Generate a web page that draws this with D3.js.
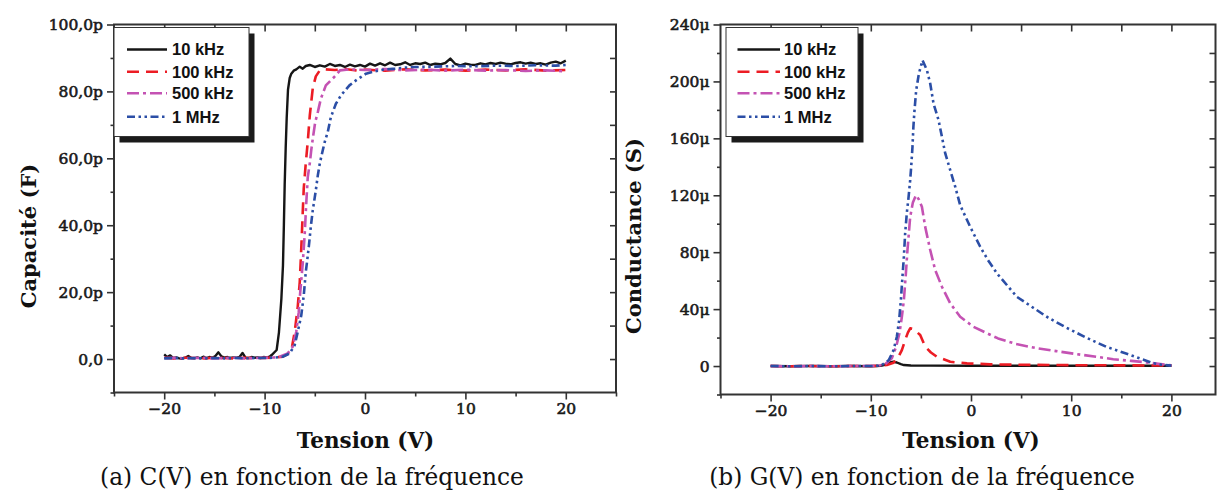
<!DOCTYPE html>
<html><head><meta charset="utf-8">
<script src="https://cdn.jsdelivr.net/npm/d3@7"></script>
<style>body{margin:0;background:#fff}svg{display:block}</style>
</head><body><svg id="c" width="1217" height="492"></svg>
<script>
// ---------- data ----------
const seriesNames = ["10 kHz", "100 kHz", "500 kHz", "1 MHz"];
const xTicks = [-20, -10, 0, 10, 20];
const xMinorTicks = [-25, -15, -5, 5, 15, 25];
const cTicks = [0, 20, 40, 60, 80, 100];
const cMinorTicks = [-10, 10, 30, 50, 70, 90];
const gTicks = [0, 40, 80, 120, 160, 200, 240];
const gMinorTicks = [-20, 20, 60, 100, 140, 180, 220];

// C(V) in pF, [tension V, capacité pF]
const c10k = [[-20,1.4],[-19.7,0.6],[-19.4,1.1],[-19.1,0.3],[-18.8,0.5],[-18.5,0.2],[-18.2,0.1],[-17.9,0.4],[-17.6,0.9],[-17.3,0.3],[-17.0,0.2],[-16.7,0.5],[-16.4,0.2],[-16.1,0.7],[-15.8,0.3],[-15.5,0.6],[-15.2,0.4],[-14.9,0.9],[-14.6,2.0],[-14.3,0.8],[-14.0,0.4],[-13.7,0.6],[-13.4,0.3],[-13.1,0.5],[-12.8,0.4],[-12.5,0.6],[-12.2,1.8],[-11.9,0.4],[-11.6,0.3],[-11.3,0.6],[-11.0,0.4],[-10.7,0.5],[-10.4,0.3],[-10.1,0.6],[-9.8,0.5],[-9.5,0.7],[-9.3,1.2],[-8.8,2.7],[-8.57,8],[-8.33,18],[-8.17,28],[-8.08,40],[-8.0,52],[-7.9,63],[-7.8,72],[-7.67,80.5],[-7.5,84],[-7.34,85.3],[-7.1,86.2],[-6.84,86.6],[-6.5,87.4],[-6.2,86.8],[-5.9,87.6],[-5.5,87.9],[-5,87.3],[-4.5,87.8],[-4,87.4],[-3.5,88.2],[-3,87.6],[-2.5,87.9],[-2,87.3],[-1.5,88.0],[-1,87.5],[-0.5,87.9],[0,87.4],[0.5,88.3],[1,87.7],[1.5,88.4],[2,87.8],[2.5,88.6],[3,87.9],[3.5,88.1],[4,88.7],[4.5,87.9],[5,88.4],[5.5,88.2],[6,88.6],[6.5,87.9],[7,88.3],[7.5,88.1],[8,88.5],[8.5,89.8],[9,88.2],[9.5,87.8],[10,88.3],[10.5,88.0],[11,87.9],[11.5,88.4],[12,88.1],[12.5,88.5],[13,88.2],[13.5,88.6],[14,88.3],[14.5,88.1],[15,88.5],[15.5,88.7],[16,88.3],[16.5,88.6],[17,88.2],[17.5,88.4],[18,88.0],[18.5,88.6],[19,88.9],[19.5,88.4],[20,89.2]];
const c100k = [[-20,0.4],[-19,0.2],[-18,0.4],[-17,0.3],[-16,0.2],[-15,0.4],[-14,0.3],[-13,0.2],[-12,0.4],[-11,0.3],[-10,0.3],[-9,0.5],[-8.2,0.7],[-7.7,1.5],[-7.3,3.2],[-7.0,8.1],[-6.7,15.6],[-6.5,23],[-6.4,29.5],[-6.3,36.5],[-6.2,44],[-6.1,51],[-5.9,58.5],[-5.7,65],[-5.5,72.8],[-5.2,81],[-4.9,84.5],[-4.5,86.3],[-4,86.6],[-3,86.4],[-2,86.7],[-1,86.3],[0,86.5],[2,86.2],[4,86.6],[6,86.3],[8,86.5],[10,86.2],[12,86.5],[14,86.3],[16,86.6],[18,86.2],[20,86.4]];
const c500k = [[-20,0.3],[-19,0.4],[-18,0.2],[-17,0.3],[-16,0.4],[-15,0.2],[-14,0.3],[-13,0.4],[-12,0.2],[-11,0.3],[-10,0.4],[-9,0.5],[-8.5,0.7],[-7.7,1.7],[-7.2,3.7],[-6.85,8.1],[-6.6,14],[-6.45,20],[-6.2,28.6],[-6.0,37.6],[-5.85,46.6],[-5.7,54.4],[-5.5,58.5],[-5.35,62.5],[-5.2,65.9],[-4.96,70.8],[-4.7,73.8],[-4.4,77.8],[-3.9,81.8],[-2.9,84.8],[-2.5,86.3],[-1.5,86.6],[0,86.4],[2,86.7],[4,86.3],[6,86.5],[8,86.2],[10,86.5],[12,86.2],[14,86.4],[16,86.1],[18,86.3],[20,86.0]];
const c1M = [[-20,0.2],[-19,0.3],[-18,0.2],[-17,0.3],[-16,0.2],[-15,0.3],[-14,0.2],[-13,0.3],[-12,0.2],[-11,0.3],[-10,0.3],[-9,0.4],[-8.2,0.7],[-7.5,1.7],[-7.0,4.2],[-6.7,8.1],[-6.35,13],[-6.1,19],[-5.9,26],[-5.75,29.6],[-5.6,33.5],[-5.4,39.5],[-5.2,44.5],[-4.9,50.4],[-4.7,54.9],[-4.5,58.5],[-4.2,62.5],[-4.0,65],[-3.7,68],[-3.4,72.3],[-2.9,76.3],[-2.4,78.8],[-1.55,81.8],[-0.9,83.3],[0.1,85.3],[1,86.0],[2,86.6],[3,86.8],[4,87.1],[5,87.3],[7,87.4],[9,87.6],[11,87.5],[13,87.7],[15,87.6],[17,87.8],[19,87.7],[20,87.9]];

// G(V) in µS, [tension V, conductance µS]
const g10k = [[-20,0],[-18,-0.2],[-16,0.1],[-14,-0.2],[-12,0],[-10,-0.1],[-9,0.2],[-8.7,0.7],[-8.3,1.8],[-8.0,2.7],[-7.73,3.0],[-7.4,2.5],[-7.0,1.3],[-6.7,0.7],[-6,0.4],[-4,0.3],[0,0.2],[5,0.2],[10,0.2],[15,0.2],[20,0.2]];
const g100k = [[-20,0],[-18,-0.2],[-16,0],[-14,-0.2],[-12,0],[-10,0],[-9,0.2],[-8.4,0.7],[-7.73,2.3],[-7.24,6.5],[-6.9,11.2],[-6.57,18.3],[-6.3,23.5],[-6.07,26.5],[-5.8,26],[-5.5,24.5],[-5.07,21.8],[-4.57,13.6],[-4,9.5],[-3.4,6.5],[-2.07,3],[-0.4,1.9],[1.9,1.2],[5,0.9],[10,0.6],[15,0.5],[20,0.3]];
const g500k = [[-20,0],[-18,-0.2],[-16,0],[-14,-0.2],[-12,0],[-10,0],[-9,0.5],[-8.56,1.4],[-7.9,5.4],[-7.47,13.6],[-7.14,23],[-6.9,34.6],[-6.7,46.3],[-6.5,65],[-6.34,81.5],[-6.07,104.8],[-5.8,115],[-5.5,120],[-5.2,117],[-4.9,111.9],[-4.57,97.8],[-4.07,81.5],[-3.57,67.4],[-2.9,55.7],[-2.07,44],[-1.08,34.6],[0.25,27.6],[1.6,23],[2.7,19.4],[4.5,15.5],[6.5,12.6],[8.5,10.5],[10.4,8.5],[12.5,6.5],[14.2,4.8],[16,3.6],[17.5,2.6],[18.9,1.4],[20,0.5]];
const g1M = [[-20,0],[-18,-0.2],[-16,0],[-14,-0.2],[-12,0],[-10,0],[-9.3,0.3],[-8.9,0.7],[-8.2,4.2],[-7.73,11.2],[-7.4,20.6],[-7.17,32.3],[-7.0,46.3],[-6.84,62.7],[-6.7,76.8],[-6.57,93.4],[-6.4,108],[-6.24,118],[-6.07,130.6],[-5.97,140],[-5.84,154],[-5.75,168],[-5.65,178.6],[-5.47,193.8],[-5.2,205.5],[-4.84,214.9],[-4.4,207.9],[-4.07,198.5],[-3.74,184.5],[-3.24,172.8],[-2.9,161],[-2.57,149.4],[-2.07,137.6],[-1.57,125.9],[-1.08,113],[-0.08,97.8],[0.92,83.8],[1.7,74.4],[2.6,65],[4.6,48.5],[7.7,34],[9.5,27],[11.5,20],[13.5,13.5],[15.4,9],[17,5],[18.1,2.2],[19,0.9],[20,0.3]];

// ---------- style ----------
const colors = ["#161616", "#ec1c24", "#c452b3", "#2b4ea6"];
const dashes = [null, "12,7", "12,4,3,4", "8,3.5,2.5,3.5,2.5,3.5"];
const serif = "'DejaVu Serif', serif";
const sans = "'Liberation Sans', Arial, sans-serif";

const svg = d3.select("#c");

function panel(o) {
  const g = svg.append("g");
  const x = d3.scaleLinear().domain([-25, 25]).range(o.xr);
  const y = d3.scaleLinear().domain(o.yd).range(o.yr);
  const [x0, x1] = [o.xr[0], o.frameRight];
  const [yb, yt] = o.yr;

  const tickStyle = sel => {
    sel.select(".domain").remove();
    sel.selectAll("line").attr("stroke", "#333").attr("stroke-width", 1.6);
    sel.selectAll("text").attr("font-family", serif).attr("font-size", 15.5)
      .attr("fill", "#1a1a1a").attr("stroke", "#1a1a1a").attr("stroke-width", 0.6);
  };
  g.append("g").attr("transform", `translate(0,${yb})`)
    .call(d3.axisBottom(x).tickValues(xTicks).tickSize(7).tickPadding(3).tickFormat(d3.format("d")))
    .call(tickStyle);
  g.append("g").attr("transform", `translate(0,${yb})`)
    .call(d3.axisBottom(x).tickValues(xMinorTicks.filter(v => x(v) <= x1)).tickSize(4).tickFormat(""))
    .call(tickStyle);
  g.append("g").attr("transform", `translate(0,${yt})`)
    .call(d3.axisBottom(x).tickValues(xTicks.concat(xMinorTicks).filter(v => x(v) < x1 - 2 && x(v) > x0 + 2)).tickSize(7).tickFormat(""))
    .call(tickStyle);
  g.append("g").attr("transform", `translate(${x0},0)`)
    .call(d3.axisLeft(y).tickValues(o.yTicks).tickSize(7).tickPadding(4).tickFormat(o.fmt))
    .call(tickStyle);
  g.append("g").attr("transform", `translate(${x0},0)`)
    .call(d3.axisLeft(y).tickValues(o.yMinor).tickSize(3.5).tickFormat(""))
    .call(tickStyle);
  g.append("g").attr("transform", `translate(${x1},0)`)
    .call(d3.axisLeft(y).tickValues(o.yTicks.concat(o.yMinor).filter(v => y(v) > yt + 2 && y(v) < yb - 2)).tickSize(6).tickFormat(""))
    .call(tickStyle);

  g.append("rect").attr("x", x0).attr("y", yt).attr("width", x1 - x0).attr("height", yb - yt)
    .attr("fill", "none").attr("stroke", "#333").attr("stroke-width", 2);

  const line = d3.line().x(d => x(d[0])).y(d => y(d[1]));
  o.series.forEach((s, i) => {
    g.append("path").datum(s).attr("d", line).attr("fill", "none")
      .attr("stroke", colors[i]).attr("stroke-width", i === 0 ? 2.4 : 2.6)
      .attr("stroke-linejoin", "round")
      .attr("stroke-dasharray", dashes[i]);
  });

  const L = o.legend;
  g.append("rect").attr("x", L.x + 5.5).attr("y", L.y + 6).attr("width", L.w).attr("height", L.h).attr("fill", "#1b1b1b");
  g.append("rect").attr("x", L.x).attr("y", L.y).attr("width", L.w).attr("height", L.h)
    .attr("fill", "#fff").attr("stroke", "#333").attr("stroke-width", 1);
  const rowsY = [49.5, 71.7, 93.3, 116.7];
  seriesNames.forEach((n, i) => {
    g.append("line").attr("x1", L.lx0).attr("x2", L.lx1).attr("y1", rowsY[i]).attr("y2", rowsY[i])
      .attr("stroke", colors[i]).attr("stroke-width", 2.6).attr("stroke-dasharray", dashes[i]);
    g.append("text").attr("x", L.tx).attr("y", rowsY[i]).attr("dy", "0.36em")
      .attr("font-family", sans).attr("font-weight", "bold").attr("font-size", 16.5)
      .attr("fill", "#111").text(n);
  });

  g.append("text").attr("x", o.xTitleX).attr("y", 448).attr("text-anchor", "middle")
    .attr("font-family", serif).attr("font-weight", "bold").attr("font-size", 21.5).attr("fill", "#111")
    .text("Tension (V)");
  g.append("text").attr("transform", `translate(${o.yTitleX},${o.yTitleY}) rotate(-90)`)
    .attr("text-anchor", "middle")
    .attr("font-family", serif).attr("font-weight", "bold").attr("font-size", 21).attr("fill", "#111")
    .text(o.yTitle);

  const cap = g.append("text").attr("x", o.capX).attr("y", 485).attr("text-anchor", "middle")
    .attr("font-family", serif).attr("font-size", 20).attr("fill", "#111").text(o.caption);
  const w = cap.node().getComputedTextLength();
  cap.attr("font-size", 20 * o.capW / w);
}

panel({
  xr: [114, 616], frameRight: 616,
  yd: [-10, 100], yr: [392.5, 24.5],
  yTicks: cTicks, yMinor: cMinorTicks,
  fmt: d => d === 0 ? "0,0" : d.toFixed(1).replace(".", ",") + "p",
  series: [c10k, c100k, c500k, c1M],
  legend: {x: 114, y: 27.5, w: 135, h: 109, lx0: 127, lx1: 167, tx: 172},
  xTitleX: 365.5, yTitleX: 36, yTitleY: 236, yTitle: "Capacité (F)",
  caption: "(a) C(V) en fonction de la fréquence", capX: 312, capW: 424
});
panel({
  xr: [720.5, 1221.5], frameRight: 1215.5,
  yd: [-20, 240], yr: [394.5, 24.5],
  yTicks: gTicks, yMinor: gMinorTicks,
  fmt: d => d === 0 ? "0" : d + "μ",
  series: [g10k, g100k, g500k, g1M],
  legend: {x: 726, y: 27.5, w: 132, h: 109, lx0: 737.5, lx1: 780, tx: 784},
  xTitleX: 971, yTitleX: 641, yTitleY: 236, yTitle: "Conductance (S)",
  caption: "(b) G(V) en fonction de la fréquence", capX: 922, capW: 426
});
</script></body></html>
